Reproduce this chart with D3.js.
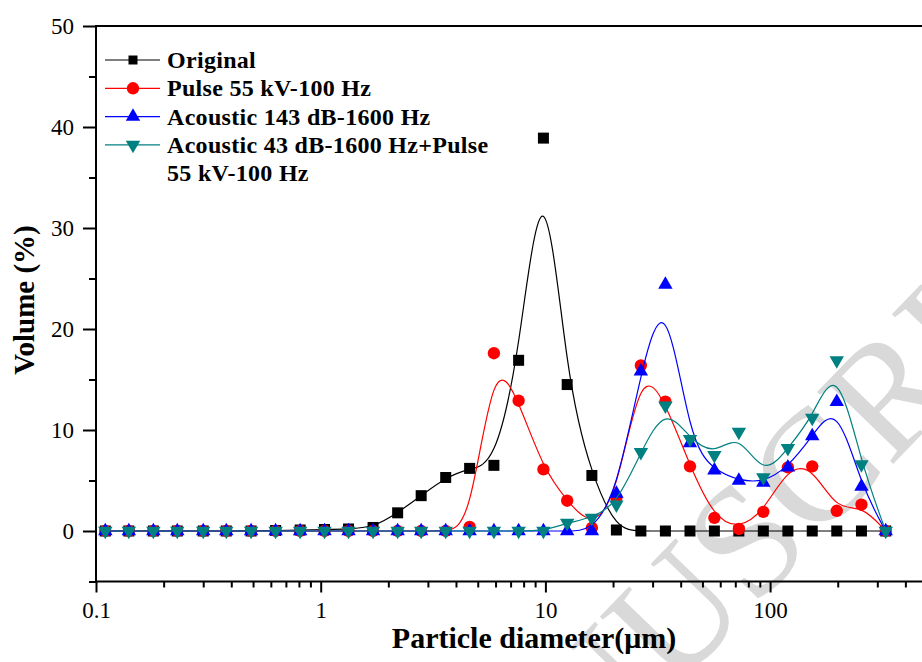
<!DOCTYPE html>
<html>
<head>
<meta charset="utf-8">
<script src="https://cdn.jsdelivr.net/npm/d3@7"></script>
<style>
  body { margin: 0; background: #fff; }
  svg { display: block; }
</style>
</head>
<body>
<div id="chart"></div>
<script>
// particle size bins (um)
var diameters = [0.11, 0.14, 0.18, 0.23, 0.30, 0.38, 0.49, 0.63, 0.81, 1.04, 1.33,
    1.71, 2.2, 2.8, 3.6, 4.6, 5.9, 7.6, 9.8, 12.5, 16.1, 20.7, 26.6, 34.2, 44,
    56.5, 72.6, 93.3, 120, 154, 198, 255, 327];

var original = [0, 0, 0, 0, 0, 0, 0, 0.05, 0.1, 0.15, 0.2, 0.35, 1.8, 3.5, 5.3, 6.2,
    6.5, 16.9, 38.9, 14.5, 5.5, 0.1, 0, 0, 0, 0, 0, 0, 0, 0, 0, 0, 0];
var pulse = [0, 0, 0, 0, 0, 0, 0, 0, 0, 0, 0, 0, 0, 0, 0, 0.4,
    17.6, 12.9, 6.1, 3.0, 0.3, 3.3, 16.4, 12.8, 6.4, 1.3, 0.2, 1.9, 6.3, 6.4, 2.0, 2.6, 0];
var acoustic = [0, 0, 0, 0, 0, 0, 0, 0, 0, 0, 0, 0, 0, 0, 0, 0, 0, 0, 0, 0, 0,
    3.7, 15.8, 24.4, 8.7, 6.0, 5.0, 4.8, 6.3, 9.4, 12.8, 4.4, 0];
var combined = [0, 0, 0, 0, 0, 0, 0, 0, 0, 0, 0, 0, 0, 0, 0, 0, 0, 0, 0,
    0.8, 1.3, 2.6, 7.8, 12.4, 9.1, 7.5, 9.8, 5.3, 8.2, 11.2, 16.9, 6.6, 0];

var seriesNames = ["Original", "Pulse 55 kV-100 Hz", "Acoustic 143 dB-1600 Hz",
    ["Acoustic 43 dB-1600 Hz+Pulse", "55 kV-100 Hz"]];

var xMajor = [0.1, 1, 10, 100];
var yMajor = [0, 10, 20, 30, 40, 50];
var yMinor = [-5, 5, 15, 25, 35, 45];

var width = 922,
    height = 662,
    serif = "'Liberation Serif', 'Times New Roman', serif";

var x = d3.scaleLog().domain([0.1, 600]).range([96, 96 + Math.log10(6000) * 224.7]);
var y = d3.scaleLinear().domain([-5, 50]).range([581.5, 26]);

var svg = d3.select("#chart").append("svg")
    .attr("width", width)
    .attr("height", height);

svg.append("rect").attr("width", width).attr("height", height).attr("fill", "#fff");

// watermark behind everything (runs off the page like in the scan)
svg.append("text")
    .attr("transform", "translate(733,552) rotate(-46)")
    .attr("text-anchor", "middle")
    .attr("dominant-baseline", "central")
    .style("font-family", serif)
    .style("font-size", "160px")
    .style("fill", "#d9d9d9")
    .text("MANUSCRIPT");

// minor ticks for the log axis: 2..9 in each decade
var xMinor = [];
xMajor.concat([1000]).forEach(function (d) {
    for (var k = 2; k <= 9; k++) {
        if (d * k < 600) xMinor.push(d * k);
    }
});

function styleAxis(g) {
    g.select(".domain").remove();
    g.selectAll(".tick line").attr("stroke", "#000").attr("stroke-width", 2);
    g.selectAll(".tick text")
        .style("font-family", serif)
        .style("font-size", "23px")
        .attr("fill", "#000");
}

svg.append("g")
    .attr("transform", "translate(0," + y(-5) + ")")
    .call(d3.axisBottom(x).tickValues(xMinor).tickSize(6).tickFormat(""))
    .call(styleAxis);
svg.append("g")
    .attr("transform", "translate(0," + y(-5) + ")")
    .call(d3.axisBottom(x).tickValues(xMajor).tickSize(11).tickPadding(9)
        .tickFormat(function (d) { return d < 1 ? "0.1" : String(d); }))
    .call(styleAxis);

svg.append("g")
    .attr("transform", "translate(" + x(0.1) + ",0)")
    .call(d3.axisLeft(y).tickValues(yMinor).tickSize(7).tickFormat(""))
    .call(styleAxis);
svg.append("g")
    .attr("transform", "translate(" + x(0.1) + ",0)")
    .call(d3.axisLeft(y).tickValues(yMajor).tickSize(13).tickPadding(9))
    .call(styleAxis);

// frame
svg.append("line").attr("x1", x(0.1)).attr("x2", width).attr("y1", y(50)).attr("y2", y(50))
    .attr("stroke", "#000").attr("stroke-width", 2);
svg.append("line").attr("x1", x(0.1)).attr("x2", width).attr("y1", y(-5)).attr("y2", y(-5))
    .attr("stroke", "#000").attr("stroke-width", 2);
svg.append("line").attr("x1", x(0.1)).attr("x2", x(0.1)).attr("y1", y(50) - 1).attr("y2", y(-5) + 1)
    .attr("stroke", "#000").attr("stroke-width", 2);

// axis titles
svg.append("text")
    .attr("x", 534).attr("y", 648)
    .attr("text-anchor", "middle")
    .style("font-family", serif).style("font-size", "30px").style("font-weight", "bold")
    .text("Particle diameter(\u03bcm)");
svg.append("text")
    .attr("transform", "translate(34,300) rotate(-90)")
    .attr("text-anchor", "middle")
    .style("font-family", serif).style("font-size", "29px").style("font-weight", "bold")
    .text("Volume (%)");

var series = [
    { name: seriesNames[0], values: original, color: "#000000", symbol: d3.symbolSquare, size: 121, rot: 0 },
    { name: seriesNames[1], values: pulse, color: "#ff0000", symbol: d3.symbolCircle, size: 120, rot: 0 },
    { name: seriesNames[2], values: acoustic, color: "#0000ff", symbol: d3.symbolTriangle, size: 90, rot: 0 },
    { name: seriesNames[3], values: combined, color: "#008080", symbol: d3.symbolTriangle, size: 90, rot: 180 }
];

// B-spline style smoothing like the original plot
var line = d3.line()
    .x(function (d) { return x(d[0]); })
    .y(function (d) { return y(d[1]); })
    .curve(d3.curveBasis);

series.forEach(function (s) {
    var pts = diameters.map(function (d, i) { return [d, s.values[i]]; });
    var g = svg.append("g");
    g.append("path")
        .attr("d", line(pts))
        .attr("fill", "none")
        .attr("stroke", s.color)
        .attr("stroke-width", 1.2);
    g.selectAll("path.mark")
        .data(pts)
        .enter()
        .append("path")
        .attr("class", "mark")
        .attr("d", d3.symbol().type(s.symbol).size(s.size))
        .attr("transform", function (d) {
            return "translate(" + x(d[0]) + "," + y(d[1]) + ") rotate(" + s.rot + ")";
        })
        .attr("fill", s.color);
});

// legend
var legend = svg.append("g");
series.forEach(function (s, i) {
    var cy = 60 + i * 28.3;
    legend.append("line")
        .attr("x1", 105).attr("x2", 160).attr("y1", cy).attr("y2", cy)
        .attr("stroke", s.color).attr("stroke-width", 1.2);
    legend.append("path")
        .attr("d", d3.symbol().type(s.symbol).size(s.symbol === d3.symbolSquare ? 81 : s.size))
        .attr("transform", "translate(133," + cy + ") rotate(" + s.rot + ")")
        .attr("fill", s.color);
    var lines = Array.isArray(s.name) ? s.name : [s.name];
    var t = legend.append("text")
        .attr("x", 167).attr("y", cy + 8)
        .style("font-family", serif).style("font-size", "24px").style("font-weight", "bold")
        .style("letter-spacing", "0.3px");
    lines.forEach(function (l, j) {
        t.append("tspan").attr("x", 167).attr("dy", j === 0 ? 0 : 28.3).text(l);
    });
});
</script>
</body>
</html>
